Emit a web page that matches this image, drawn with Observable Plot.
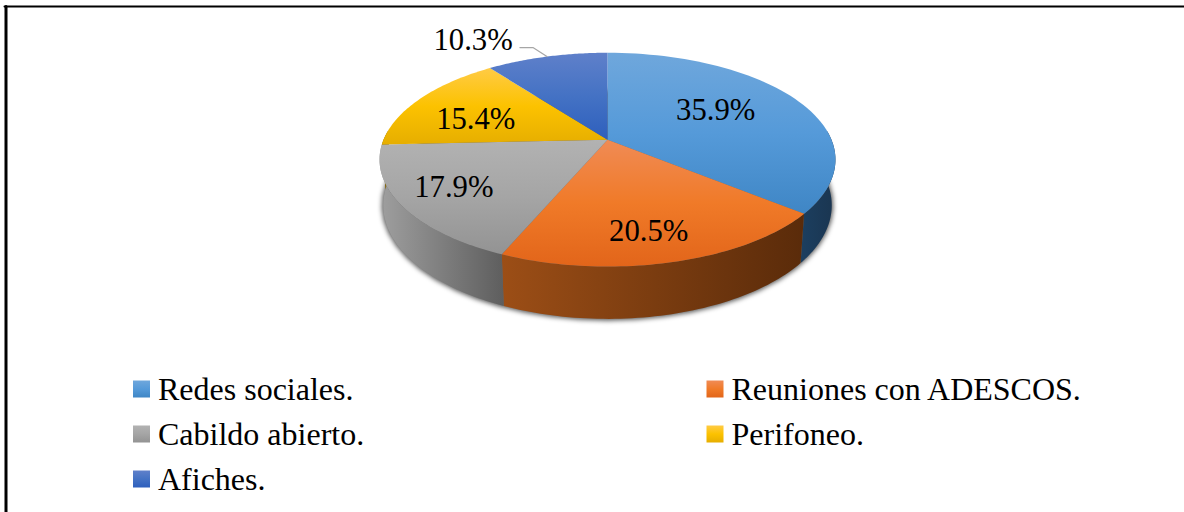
<!DOCTYPE html>
<html><head><meta charset="utf-8">
<script src="https://cdn.jsdelivr.net/npm/d3@7"></script>
<script src="https://cdn.jsdelivr.net/npm/@observablehq/plot@0.6"></script>
<style>
html,body{margin:0;padding:0;background:#fff}
.pie-shadow{filter:blur(2.5px)}
</style></head><body><div id="chart"></div>
<script>
const categories = ["Redes sociales.", "Reuniones con ADESCOS.", "Cabildo abierto.", "Perifoneo.", "Afiches."];
const shares = [35.9, 20.5, 17.9, 15.4, 10.3];
const labels = ["35.9%", "20.5%", "17.9%", "15.4%", "10.3%"];
const topColors = [["#6fa7dc", "#559ad9", "#3f86c5"], ["#f08b55", "#f07a28", "#e2651a"], ["#b2b2b2", "#a5a5a5", "#939393"], ["#ffcb45", "#fcc200", "#e6ae00"], ["#5f80ca", "#4472c4", "#2e5fbd"]];
const sideColors = [["#1c3f60", "#1a3550"], ["#9c4e16", "#5a2b0a"], ["#9f9f9f", "#5e5e5e"], ["#806000", "#806000"], ["#264478", "#264478"]];
const labelRadius = [0.6, 0.78, 0.756, 0.636, 1.38];
const labelTurn = [-4.9, 1.7, 0.45, -6.5, -13];

// perspective of the disc
const W = 1184, H = 512, cx = 607, cy = 139.3, A = 224, B = 103.2, k = 0.1857, drop = 45.5, far = 0.016;
const project = (deg, r = 1, lower = false) => {
  const t = deg * Math.PI / 180, u = r * Math.sin(t), v = -r * Math.cos(t);
  const w = 1 - k * v + (lower ? far : 0);
  return {x: cx + A * u / w, y: cy + (B * v + (lower ? drop : 0)) / w};
};
const total = d3.sum(shares);
let acc = 0;
const slices = shares.map((s, i) => {
  const a0 = acc / total * 360; acc += s; const a1 = acc / total * 360;
  return {i, a0, a1, mid: (a0 + a1) / 2};
});
const arc = (a0, a1, lower) => d3.range(0, 61).map(j => project(a0 + (a1 - a0) * j / 60, 1, lower));
const topFace = s => [{x: cx, y: cy}, ...arc(s.a0, s.a1, false)];
const sideFace = (a0, a1) => [...arc(a0, a1, false), ...arc(a1, a0, true)];

function gradients() {
  const defs = d3.create("svg:defs");
  const add = (id, stops, horizontal) => {
    const g = defs.append("linearGradient").attr("id", id).attr("x1", 0).attr("y1", 0)
      .attr("x2", horizontal ? 1 : 0).attr("y2", horizontal ? 0 : 1);
    stops.forEach((c, j) => g.append("stop").attr("offset", j / (stops.length - 1)).attr("stop-color", c));
  };
  topColors.forEach((c, i) => add("top" + i, c, false));
  sideColors.forEach((c, i) => add("side" + i, c, true));
  return defs.node();
}

const visible = slices.map(s => ({...s, b0: Math.max(s.a0, 85), b1: Math.min(s.a1, 275)})).filter(s => s.b1 > s.b0);
const font = "Liberation Serif";
const legendX = [133, 706.5], legendY = [389, 434, 479], box = 8.5;
const legend = categories.map((name, i) => ({name, i, x: legendX[i % 2], y: legendY[Math.floor(i / 2)]}));
const labelRows = slices.map(s => ({text: labels[s.i], ...project(s.mid + labelTurn[s.i], labelRadius[s.i])}));
const rim = project(slices[4].mid);
const leader = [{x: rim.x - 27, y: rim.y - 9}, {x: rim.x - 14, y: rim.y - 9}, rim];

const chart = Plot.plot({
  width: W, height: H, margin: 0,
  x: {domain: [0, W], range: [0, W], axis: null},
  y: {domain: [0, H], range: [0, H], axis: null},
  marks: [
    gradients,
    Plot.line([{x: 5.5, y: H}, {x: 5.5, y: 6}], {x: "x", y: "y", stroke: "#000", strokeWidth: 3}),
    Plot.line([{x: 4, y: 6}, {x: W, y: 6}], {x: "x", y: "y", stroke: "#000", strokeWidth: 2}),
    Plot.line(arc(0, 360, true), {x: "x", y: "y", fill: "#000", fillOpacity: 0.6, stroke: "#000", strokeOpacity: 0.6, strokeWidth: 3, className: "pie-shadow"}),
    ...visible.map(s => Plot.line(sideFace(s.b0, s.b1), {x: "x", y: "y", fill: `url(#side${s.i})`, stroke: "none"})),
    ...slices.map(s => Plot.line(topFace(s), {x: "x", y: "y", fill: `url(#top${s.i})`, stroke: "none"})),
    Plot.line(leader, {x: "x", y: "y", stroke: "#a6a6a6", strokeWidth: 1.2}),
    Plot.text(labelRows, {x: "x", y: "y", dx: -1.7, text: "text", fontFamily: font, fontSize: 30.7, fill: "#000"}),
    ...legend.map(d => Plot.rect([d], {x1: "x", x2: e => e.x + 2 * box, y1: e => e.y - box, y2: e => e.y + box, fill: `url(#top${d.i})`})),
    Plot.text(legend, {x: e => e.x + 24.5, y: "y", text: "name", textAnchor: "start", fontFamily: font, fontSize: 32, fill: "#000"})
  ]
});
document.getElementById("chart").append(chart);
</script></body></html>
